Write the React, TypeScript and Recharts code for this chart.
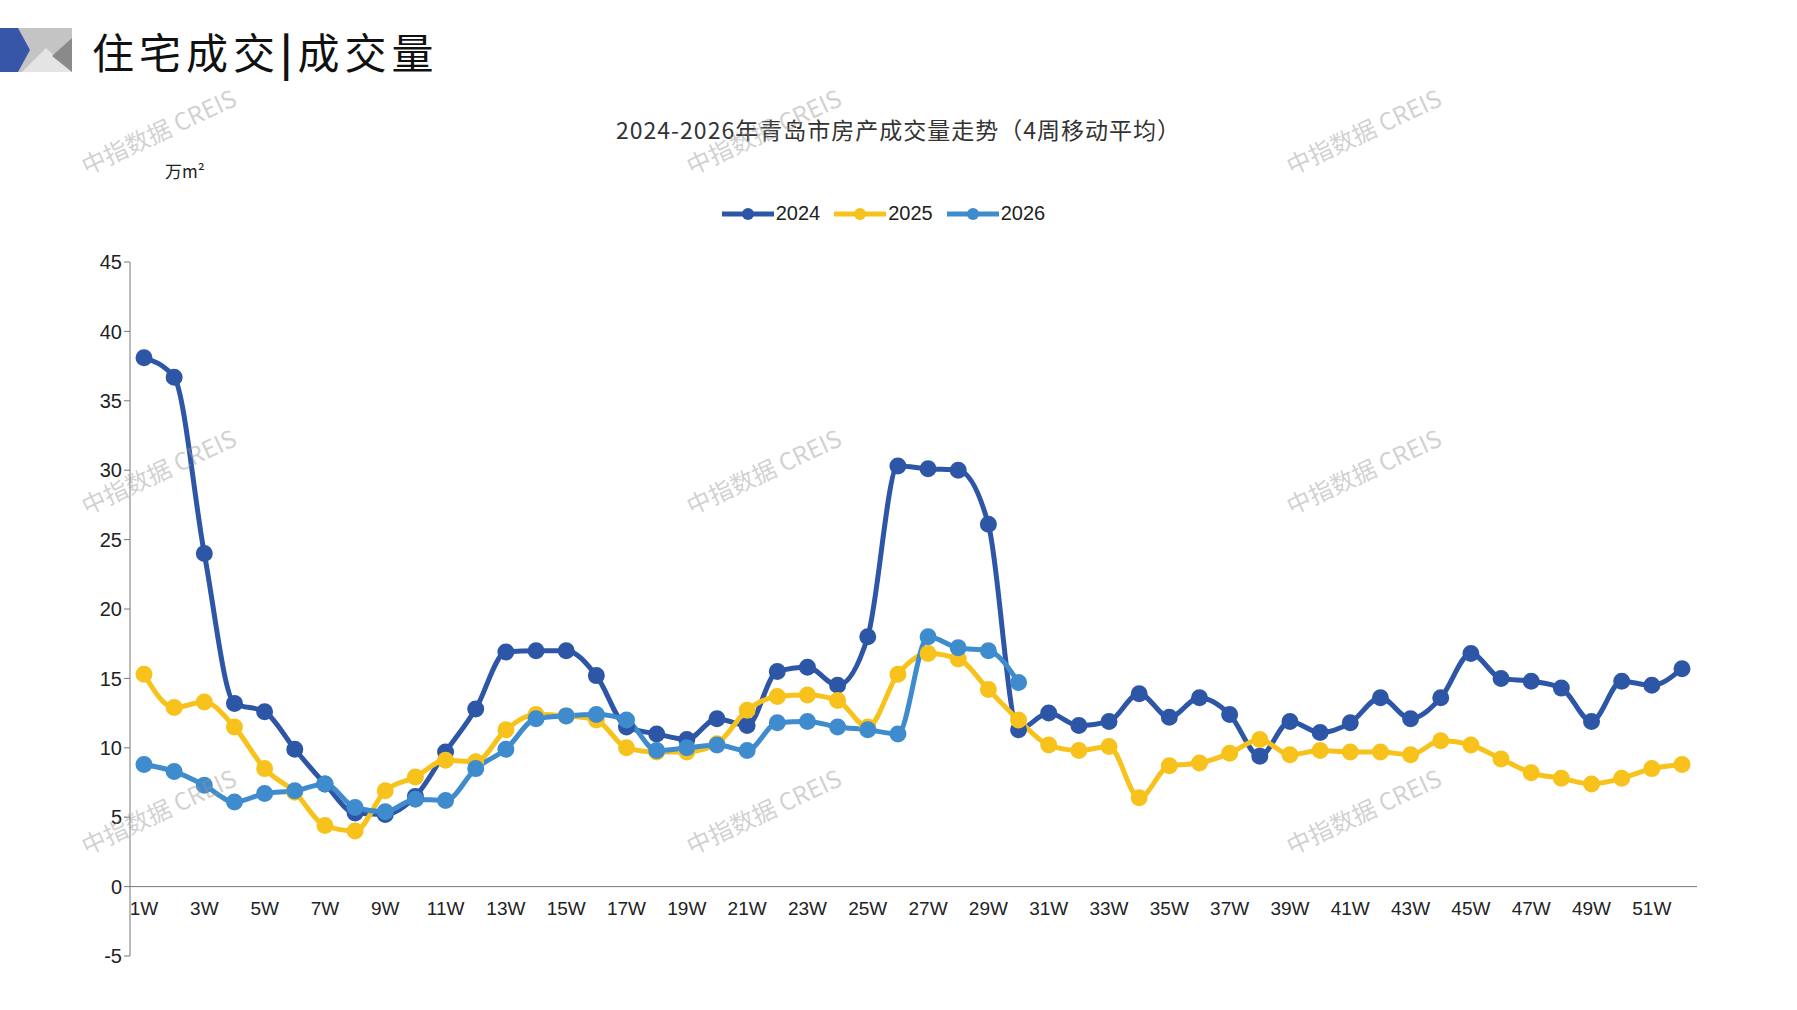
import React from 'react';
import { CartesianGrid, Legend, Line, LineChart, ReferenceLine, XAxis, YAxis } from 'recharts';

const weeks = Array.from({ length: 52 }, (_, i) => `${i + 1}W`);
const y2024 = [38.1, 36.7, 24, 13.2, 12.6, 9.9, 7.4, 5.3, 5.2, 6.5, 9.7, 12.8, 16.9, 17.0, 17.0, 15.2, 11.5, 11.0, 10.6, 12.1, 11.6, 15.5, 15.8, 14.5, 18.0, 30.3, 30.1, 30.0, 26.1, 11.3, 12.5, 11.6, 11.9, 13.9, 12.2, 13.6, 12.4, 9.4, 11.9, 11.1, 11.8, 13.6, 12.1, 13.6, 16.8, 15.0, 14.8, 14.3, 11.9, 14.8, 14.5, 15.7];
const y2025 = [15.3, 12.9, 13.3, 11.5, 8.5, 6.8, 4.4, 4.0, 6.9, 7.9, 9.1, 9.0, 11.3, 12.4, 12.3, 12.0, 10.0, 9.7, 9.7, 10.3, 12.7, 13.7, 13.8, 13.4, 11.5, 15.3, 16.8, 16.4, 14.2, 12.0, 10.2, 9.8, 10.1, 6.4, 8.7, 8.9, 9.6, 10.6, 9.5, 9.8, 9.7, 9.7, 9.5, 10.5, 10.2, 9.2, 8.2, 7.8, 7.4, 7.8, 8.5, 8.8];
const y2026 = [8.8, 8.3, 7.3, 6.1, 6.7, 6.9, 7.4, 5.7, 5.4, 6.3, 6.2, 8.5, 9.9, 12.1, 12.3, 12.4, 12.0, 9.8, 10.0, 10.2, 9.8, 11.8, 11.9, 11.5, 11.3, 11.0, 18.0, 17.2, 17.0, 14.7];
const yTicks = [-5, 0, 5, 10, 15, 20, 25, 30, 35, 40, 45];

const data = weeks.map((w, i) => ({ week: w, y2024: y2024[i], y2025: y2025[i], y2026: y2026[i] }));

const series = [
  { key: 'y2024', name: '2024', color: '#2E56A6' },
  { key: 'y2025', name: '2025', color: '#F8C21C' },
  { key: 'y2026', name: '2026', color: '#3E8BCD' },
];

const font = 'Liberation Sans, Arial, sans-serif';
const narrow = '"Liberation Sans Narrow", "Liberation Sans", sans-serif';

const WeekTick = (props: any) => {
  const { x, y, payload } = props;
  return (
    <text x={x} y={y - 49} textAnchor="middle" fontSize={19} fill="#222" fontFamily={narrow}>
      {payload.value}
    </text>
  );
};

const marks = [
  [75, 150], [680, 150], [1280, 150],
  [75, 490], [680, 490], [1280, 490],
  [75, 830], [680, 830], [1280, 830],
];

export default function App() {
  return (
    <div style={{ position: 'absolute', left: 0, top: 0, width: 1797, height: 1010, background: '#fff', overflow: 'hidden' }}>
      <svg width={72} height={44} style={{ position: 'absolute', left: 0, top: 28 }}>
        <rect x={0} y={0} width={72} height={44} fill="#c4c4c4" />
        <polygon points="0,0 18,0 30,22 18,44 0,44" fill="#3756A8" />
        <polygon points="22,44 46,20 72,44" fill="#e4e4e4" />
        <polygon points="72,10 52,28 72,44" fill="#8a8a8a" />
      </svg>
      <div style={{ position: 'absolute', left: 92, top: 20, fontSize: 42, fontFamily: 'Noto Sans CJK SC', color: '#111', letterSpacing: 5 }}>
        住宅成交<span style={{ fontWeight: 700 }}>|</span>成交量
      </div>
      <div style={{ position: 'absolute', left: 0, width: 1797, top: 112, textAlign: 'center', fontSize: 23, fontFamily: 'Noto Sans CJK SC', color: '#333', letterSpacing: 1 }}>
        2024-2026年青岛市房产成交量走势（4周移动平均）
      </div>
      <div style={{ position: 'absolute', left: 165, top: 158, fontSize: 17, fontFamily: 'Noto Sans CJK SC', color: '#222' }}>
        万m²
      </div>
      <LineChart width={1797} height={1010} data={data} margin={{ top: 239, right: 100, bottom: 24, left: 70 }} style={{ position: 'absolute', left: 0, top: 0 }}>
        <CartesianGrid stroke="none" />
        <XAxis dataKey="week" interval={1} axisLine={false} tickLine={false} tick={<WeekTick />} padding={{ left: 14, right: 15 }} height={30} />
        <YAxis domain={[-5, 45]} ticks={yTicks} width={60} axisLine={{ stroke: '#777' }} tickLine={{ stroke: '#777' }} tick={{ fontSize: 20, fill: '#222', fontFamily: font }} interval={0} />
        <ReferenceLine y={0} stroke="#777" />
        <Legend verticalAlign="top" align="center"
          wrapperStyle={{ top: 202 }}
          content={() => (
            <div style={{ display: 'flex', justifyContent: 'center', gap: 14, fontSize: 20, fontFamily: font, color: '#222' }}>
              {series.map(s => (
                <span key={s.key} style={{ display: 'flex', alignItems: 'center', gap: 2 }}>
                  <svg width={52} height={14}>
                    <line x1={0} y1={7} x2={52} y2={7} stroke={s.color} strokeWidth={5} />
                    <circle cx={26} cy={7} r={6} fill={s.color} />
                  </svg>
                  {s.name}
                </span>
              ))}
            </div>
          )}
        />
        {series.map(s => (
          <Line key={s.key} type="monotone" dataKey={s.key} name={s.name} stroke={s.color} strokeWidth={5}
            dot={{ r: 6, fill: s.color, stroke: s.color }} activeDot={false} isAnimationActive={false} />
        ))}
      </LineChart>
      {marks.map(([x, y], i) => (
        <div key={i} style={{ position: 'absolute', left: x, top: y, transform: 'rotate(-25deg)', transformOrigin: 'left top', fontSize: 24, color: 'rgba(150,150,150,0.45)', fontFamily: 'Noto Sans CJK SC', whiteSpace: 'nowrap', pointerEvents: 'none' }}>
          中指数据 CREIS
        </div>
      ))}
    </div>
  );
}
